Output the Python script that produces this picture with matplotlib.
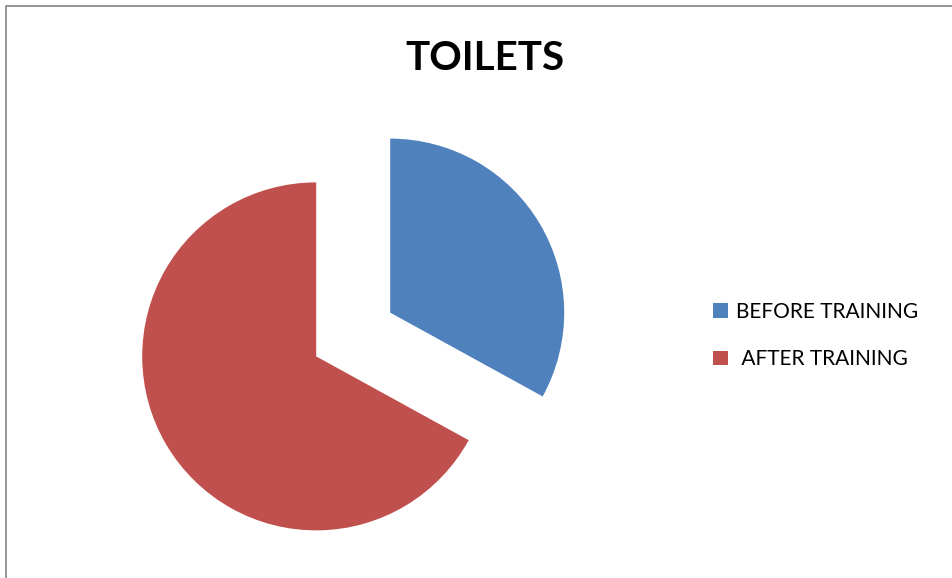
import matplotlib
matplotlib.use("Agg")
from matplotlib import pyplot as plt
from matplotlib.lines import Line2D

# toilet usage share, before vs after training
labels = ["BEFORE TRAINING", " AFTER TRAINING"]
shares = [33, 67]
colors = ["#4F81BD", "#C0504D"]

W, H = 953, 578
fig = plt.figure(figsize=(W / 100, H / 100), dpi=100)
plt.rcParams["font.family"] = ["Lato", "DejaVu Sans"]

# chart border, only top and left edges fall inside the image
bx, by = 6 / W, (H - 5.5) / H
fig.lines.append(Line2D([bx, bx, 1.0], [0.0, by, by], transform=fig.transFigure,
                        color="#8c8c8c", linewidth=1.3))

# pie axes: centre (353, 334) px, radius 174 px
lim = 1.3
size = 2 * lim * 174
cx, cy = 353.2, H - 334.5
ax = fig.add_axes([(cx - size / 2) / W, (cy - size / 2) / H, size / W, size / H])
wedges, _ = ax.pie(shares, colors=colors, startangle=90, counterclock=False,
                   explode=[0.247, 0.247], radius=1.0,
                   wedgeprops=dict(linewidth=0))
ax.set_xlim(-lim, lim)
ax.set_ylim(-lim, lim)
ax.set_aspect("equal")
ax.axis("off")

fig.text(485 / W, (H - 70) / H, "TOILETS", ha="center", va="baseline",
         fontsize=29, fontweight="bold")

fig.legend(wedges, labels, loc="center left",
           bbox_to_anchor=(712.7 / W, (H - 335.5) / H),
           frameon=False, fontsize=15, handlelength=0.72, handleheight=0.68,
           handletextpad=0.38, labelspacing=1.31, borderpad=0, borderaxespad=0)

fig.savefig("out.png", dpi=100)
